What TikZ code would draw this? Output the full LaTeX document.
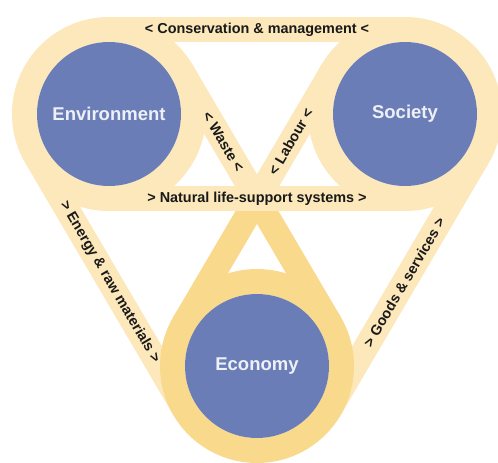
\documentclass[tikz,border=0pt]{standalone}
\usepackage{fontspec}
\setmainfont{Liberation Sans}
\usetikzlibrary{backgrounds}
\definecolor{discblue}{HTML}{6A7DB6}
\definecolor{discwhite}{HTML}{EEF0F8}
\definecolor{beltpale}{HTML}{FCE8BA}
\definecolor{beltgold}{HTML}{F9D98C}
\begin{document}
\begin{tikzpicture}[x=1pt,y=-1pt,
  hub/.style={circle, fill=discblue, minimum size=144pt, inner sep=0pt, outer sep=12.5pt, text=discwhite, font=\bfseries\fontsize{18.5}{20}\selectfont},
  belt/.style={draw=beltpale, line width=25pt},
  tag/.style={font=\bfseries\fontsize{14.4}{16}\selectfont, text=black!90, inner sep=0pt}]
\useasboundingbox (0,0) rectangle (498,463);
\node[hub] (env) at (109,114) {Environment};
\node[hub] (soc) at (405,114) {Society};
\node[hub] (eco) at (257,366) {Economy};
\coordinate (cross) at (intersection of env.30--eco.30 and soc.150--eco.150);

\begin{scope}[on background layer]
\fill[white] (0,0) rectangle (498,463);
\draw[belt] (env.center) circle[radius=84.5];
\draw[belt] (soc.center) circle[radius=84.5];
\draw[belt] (env.north) -- node[tag] {< Conservation \& management <} (soc.north);
\draw[belt] (env.210) -- node[tag, sloped] {> Energy \& raw materials >} (eco.210);
\draw[belt] (eco.330) -- node[tag, sloped] {> Goods \& services >} (soc.330);
\draw[belt] (env.30) -- node[tag, sloped, pos=0.55] {< Waste <} (cross);
\draw[belt] (soc.150) -- node[tag, sloped, pos=0.55] {< Labour <} (cross);
\draw[belt, draw=beltgold] (cross) -- (eco.30);
\draw[belt, draw=beltgold] (cross) -- (eco.150);
\draw[belt, draw=beltgold] (eco.center) circle[radius=84.5];
\draw[belt] (env.south) -- node[tag] {> Natural life-support systems >} (soc.south);
\end{scope}
\end{tikzpicture}
\end{document}
